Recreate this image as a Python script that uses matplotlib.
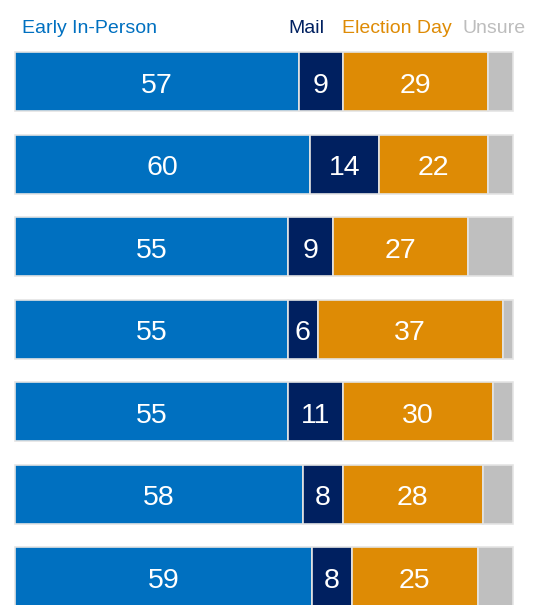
import matplotlib.pyplot as plt
from matplotlib import font_manager
import numpy as np

plt.rcParams['font.family'] = ['Liberation Sans', 'DejaVu Sans']

categories = ['Early In-Person', 'Mail', 'Election Day', 'Unsure']

# printed labels
early_lbl = [57, 60, 55, 55, 55, 58, 59]
mail_lbl = [9, 14, 9, 6, 11, 8, 8]
eday_lbl = [29, 22, 27, 37, 30, 28, 25]

# segment widths as drawn (percent)
early = [57.0, 59.3, 54.8, 54.8, 54.8, 57.8, 59.6]
mail = [8.8, 13.8, 9.0, 6.0, 11.0, 8.0, 8.0]
eday = [29.1, 21.9, 27.1, 37.1, 30.1, 28.1, 25.3]
unsure = [5.1, 5.0, 9.1, 2.1, 4.1, 6.1, 7.1]

colors = ['#0070C0', '#002060', '#DE8B05', '#BFBFBF']

fig = plt.figure(figsize=(5.49, 6.05), dpi=100)
ax = fig.add_axes([0, 0, 1, 1])

rows = np.arange(len(early))
series = [early, mail, eday, unsure]
labels = [early_lbl, mail_lbl, eday_lbl, None]
left = np.zeros(len(early))
for vals, lbls, col in zip(series, labels, colors):
    vals = np.array(vals, dtype=float)
    ax.barh(rows, vals, left=left, height=0.715, color=col,
            edgecolor='#E4E4E4', linewidth=1.2)
    if lbls is not None:
        for r, v, l, t in zip(rows, vals, left, lbls):
            ax.text(l + v / 2, r + 0.136, str(t), ha='center', va='baseline',
                    color='white', fontsize=20.5)
    left += vals

ax.set_xlim(-3.01, 107.23)
ax.set_ylim(6.345, -0.988)
ax.axis('off')

# header legend (narrow face if the system has one)
names = {f.name for f in font_manager.fontManager.ttflist}
if 'Liberation Sans Narrow' in names:
    head_font, head_size = ['Liberation Sans Narrow', 'DejaVu Sans'], 17.5
else:
    head_font, head_size = ['Liberation Sans', 'DejaVu Sans'], 14

y_head = 1 - 33 / 605
heads = [('Early In-Person', 22, colors[0]), ('Mail', 288, colors[1]),
         ('Election Day', 342, colors[2]), ('Unsure', 463, '#BDBDBD')]
for txt, xpx, col in heads:
    fig.text(xpx / 549, y_head, txt, color=col, family=head_font,
             fontsize=head_size, ha='left', va='baseline')

fig.savefig('out.png', dpi=100)
